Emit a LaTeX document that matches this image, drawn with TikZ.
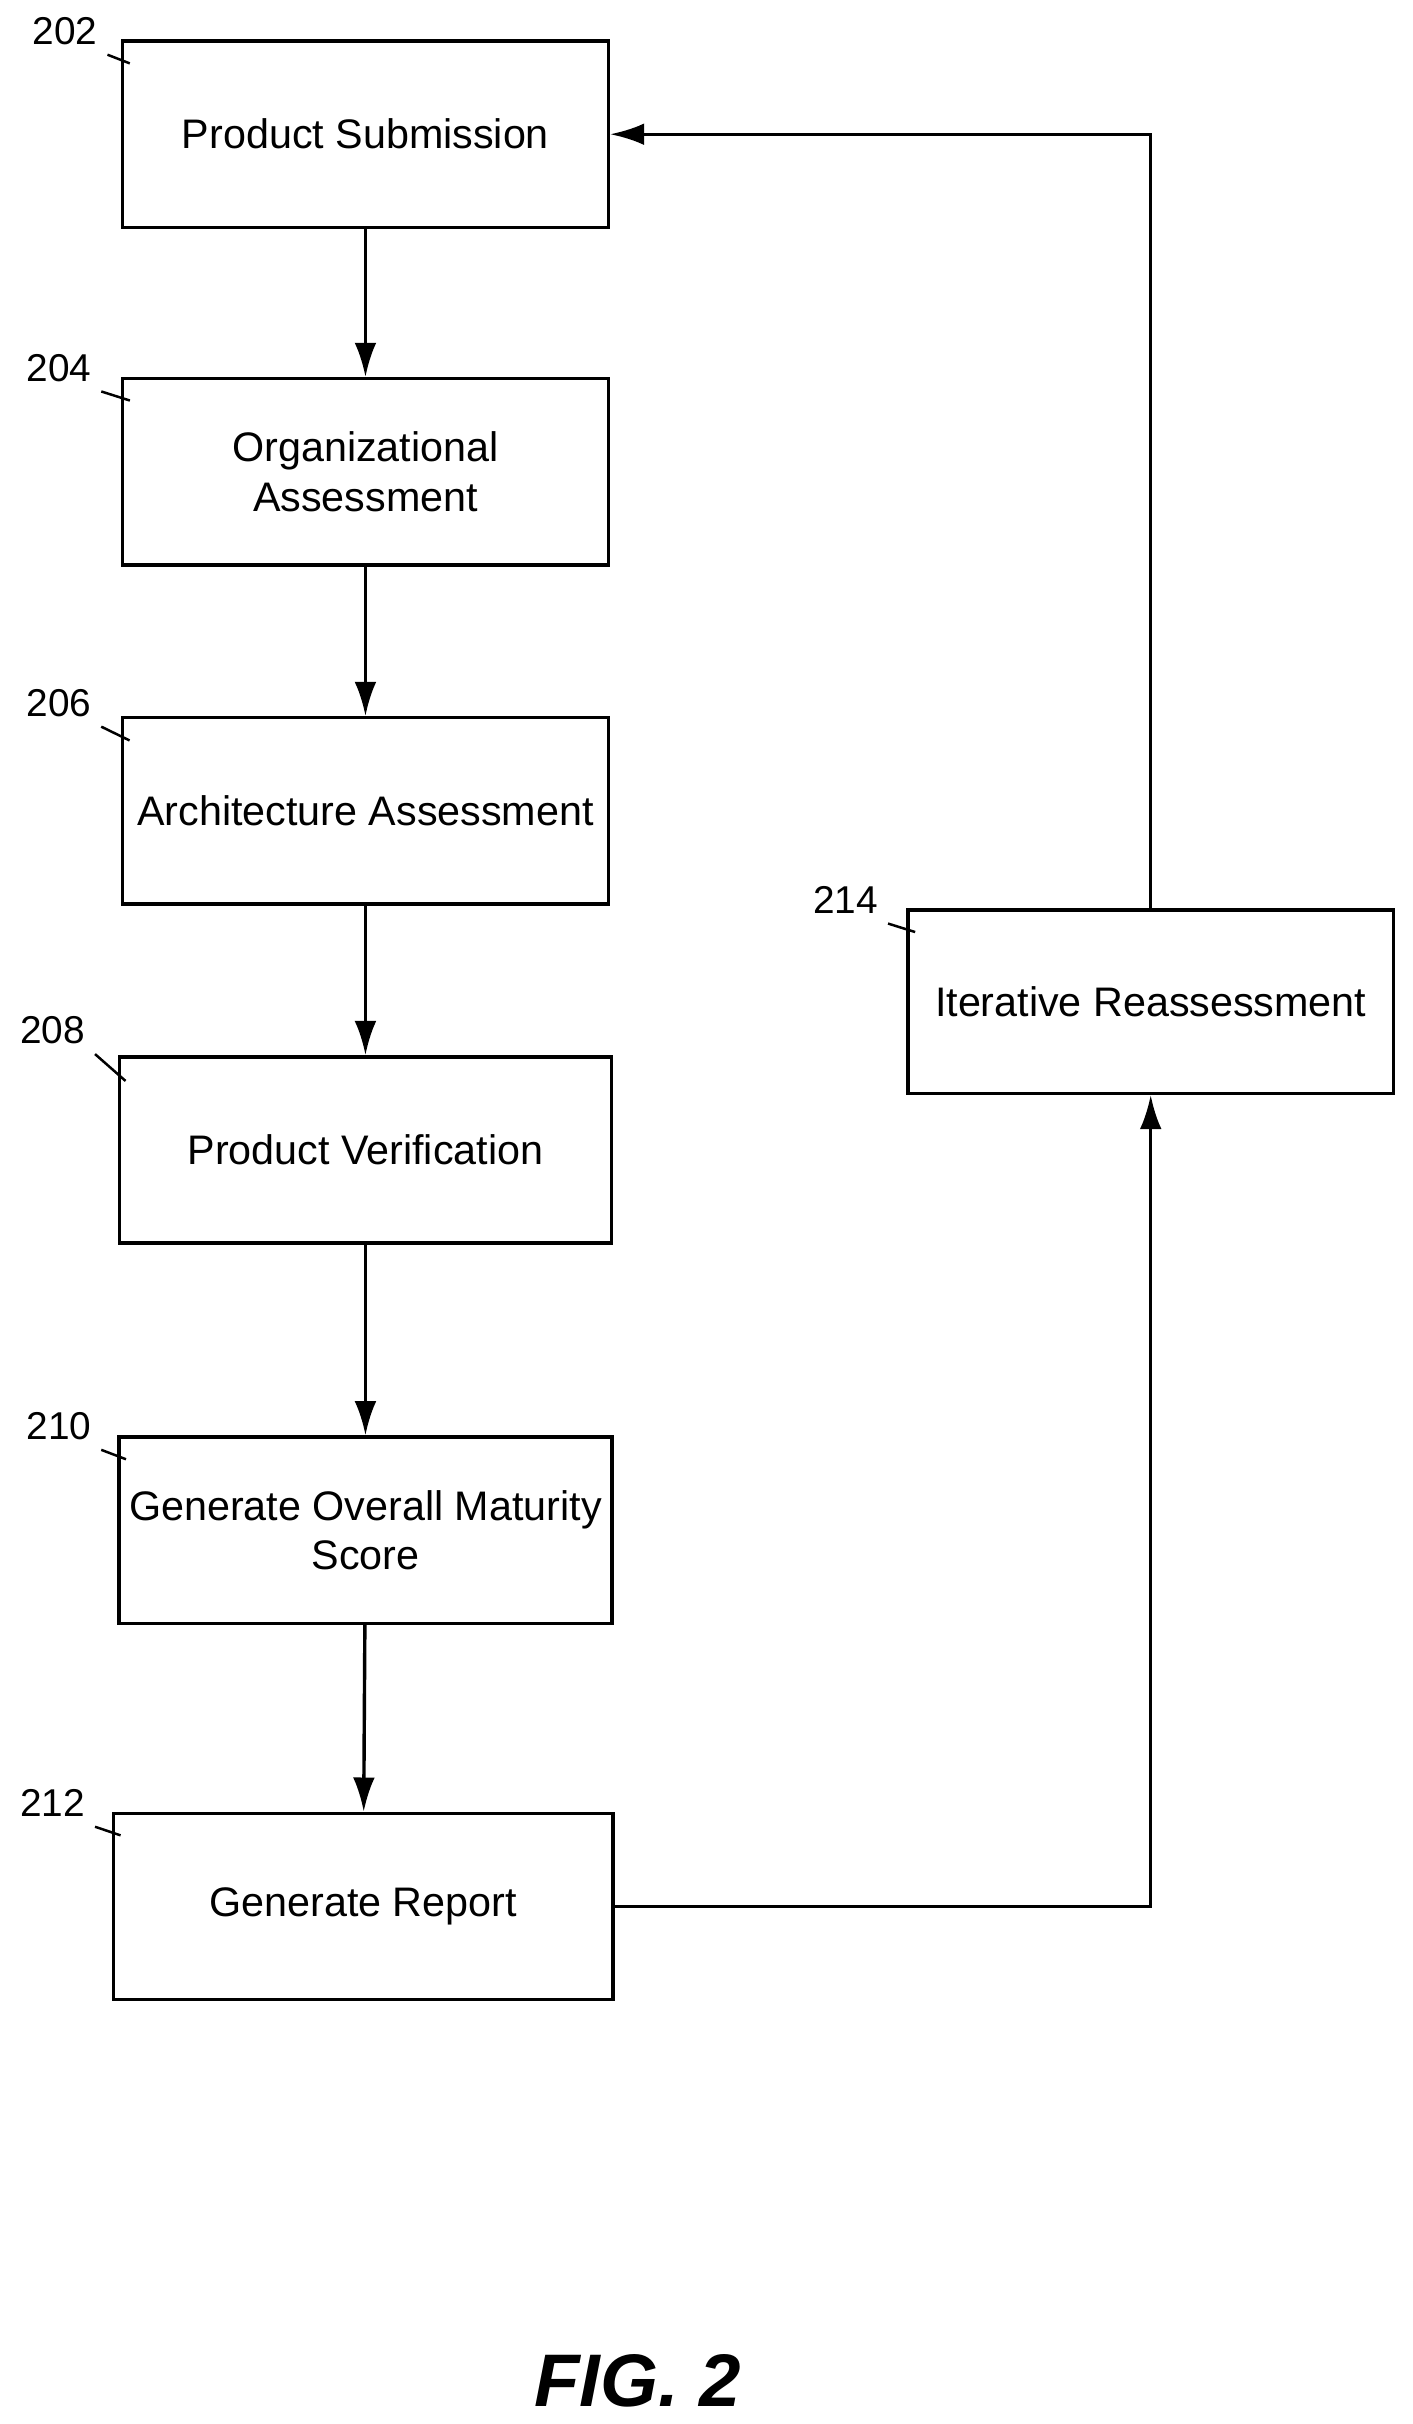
\documentclass[tikz,border=0pt]{standalone}
\usepackage{fontspec}
\setmainfont{Liberation Sans}
\usetikzlibrary{positioning,arrows.meta}
\begin{document}
\begin{tikzpicture}[x=0.5pt,y=-0.5pt]
  \tikzset{ box/.style={draw,line width=1.1pt,align=center,font=\fontsize{13.3}{16}\selectfont},
    lbl/.style={font=\fontsize{12.5}{14}\selectfont,inner sep=1pt},
    lead/.style={line width=0.8pt,shorten >=-2pt},
    arr/.style={-{Latex[length=11pt,width=7pt]},line width=1.1pt},
  }
  \useasboundingbox (0,0) rectangle (910,1562);
  % the boxes
  \node[box,minimum width=156.5pt,minimum height=60pt] (ps) at (235.5,86.5) {Product Submission};
  \node[box,minimum width=156.5pt,minimum height=60pt] (oa) at (235.5,304) {Organizational\\Assessment};
  \node[box,minimum width=156.5pt,minimum height=60pt] (aa) at (235.5,522.5) {Architecture Assessment};
  \node[box,minimum width=158.5pt,minimum height=60pt] (pv) at (235.5,741) {Product Verification};
  \node[box,minimum width=158.5pt,minimum height=60pt] (gs) at (235.5,986) {Generate Overall Maturity\\Score};
  \node[box,minimum width=161pt,minimum height=60pt] (gr) at (234,1228.5) {Generate Report};
  \node[box,minimum width=156.5pt,minimum height=59pt] (ir) at (741.5,645.5) {Iterative Reassessment};
  % the reference numbers
  \node[lbl] (n202) at (42,20) {202};
  \node[lbl] (n204) at (38,237) {204};
  \node[lbl] (n206) at (38,453) {206};
  \node[lbl] (n208) at (34,664) {208};
  \node[lbl] (n210) at (38,919) {210};
  \node[lbl] (n212) at (34,1162) {212};
  \node[lbl] (n214) at (545,580) {214};
  \draw[lead] ([shift={(4,4)}]n202.south east) -- ([shift={(2,14)}]ps.north west);
  \draw[lead] ([shift={(4,4)}]n204.south east) -- ([shift={(2,14)}]oa.north west);
  \draw[lead] ([shift={(4,4)}]n206.south east) -- ([shift={(2,14)}]aa.north west);
  \draw[lead] ([shift={(4,4)}]n208.south east) -- ([shift={(2,14)}]pv.north west);
  \draw[lead] ([shift={(4,4)}]n210.south east) -- ([shift={(2,14)}]gs.north west);
  \draw[lead] ([shift={(4,4)}]n212.south east) -- ([shift={(2,14)}]gr.north west);
  \draw[lead] ([shift={(4,4)}]n214.south east) -- ([shift={(2,14)}]ir.north west);
  % the connections
  \draw[arr] (ps) -- (oa);
  \draw[arr] (oa) -- (aa);
  \draw[arr] (aa) -- (pv);
  \draw[arr] (pv) -- (gs);
  \draw[arr] (gs) -- (gr);
  \draw[arr] (gr.east) -| (ir.south);
  \draw[arr] (ir.north) |- (ps.east);
  \node[font=\bfseries\itshape\fontsize{24}{28}\selectfont] (fig) at (411,1534) {FIG. 2};
\end{tikzpicture}
\end{document}
